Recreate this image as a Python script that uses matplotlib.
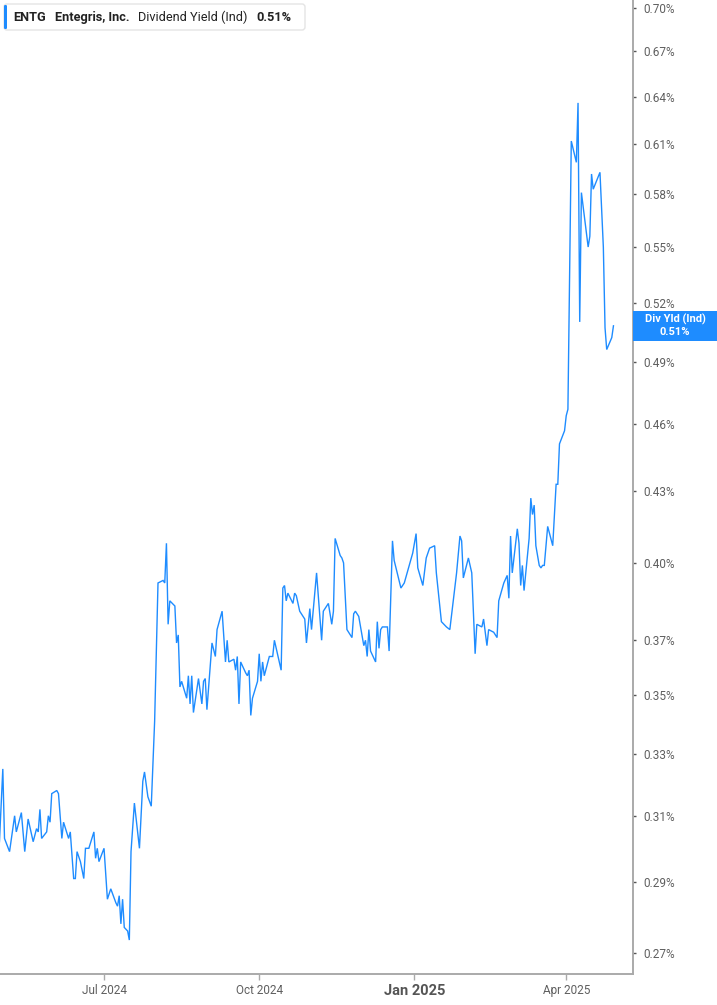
import matplotlib
matplotlib.use("Agg")
import matplotlib.pyplot as plt
from matplotlib.patches import FancyBboxPatch, Rectangle
from matplotlib.ticker import FixedLocator, NullLocator, NullFormatter
import pandas as pd

plt.rcParams['font.family'] = ['Roboto', 'DejaVu Sans']

ticker = "ENTG"
company = "Entegris, Inc."
metric = "Dividend Yield (Ind)"
short_metric = "Div Yld (Ind)"

dates = [
    "2024-04-30", "2024-05-02", "2024-05-03", "2024-05-06", "2024-05-09", "2024-05-10",
    "2024-05-13", "2024-05-15", "2024-05-17", "2024-05-20", "2024-05-22", "2024-05-23",
    "2024-05-24", "2024-05-25", "2024-05-28", "2024-05-29", "2024-05-30", "2024-05-31",
    "2024-06-03", "2024-06-04", "2024-06-06", "2024-06-07", "2024-06-10", "2024-06-11",
    "2024-06-13", "2024-06-14", "2024-06-15", "2024-06-17", "2024-06-19", "2024-06-20",
    "2024-06-22", "2024-06-25", "2024-06-26", "2024-06-27", "2024-06-28", "2024-07-01",
    "2024-07-03", "2024-07-05", "2024-07-08", "2024-07-09", "2024-07-10", "2024-07-11",
    "2024-07-12", "2024-07-13", "2024-07-15", "2024-07-16", "2024-07-17", "2024-07-19",
    "2024-07-22", "2024-07-24", "2024-07-25", "2024-07-27", "2024-07-29", "2024-07-31",
    "2024-08-02", "2024-08-05", "2024-08-06", "2024-08-07", "2024-08-08", "2024-08-09",
    "2024-08-12", "2024-08-13", "2024-08-14", "2024-08-15", "2024-08-16", "2024-08-19",
    "2024-08-20", "2024-08-21", "2024-08-22", "2024-08-23", "2024-08-26", "2024-08-28",
    "2024-08-29", "2024-08-30", "2024-08-31", "2024-09-03", "2024-09-05", "2024-09-06",
    "2024-09-09", "2024-09-11", "2024-09-12", "2024-09-13", "2024-09-16", "2024-09-17",
    "2024-09-18", "2024-09-19", "2024-09-20", "2024-09-23", "2024-09-24", "2024-09-25",
    "2024-09-26", "2024-09-27", "2024-09-30", "2024-10-01", "2024-10-02", "2024-10-03",
    "2024-10-04", "2024-10-07", "2024-10-09", "2024-10-10", "2024-10-14", "2024-10-15",
    "2024-10-16", "2024-10-17", "2024-10-18", "2024-10-21", "2024-10-22", "2024-10-23",
    "2024-10-25", "2024-10-28", "2024-10-29", "2024-10-31", "2024-11-01", "2024-11-04",
    "2024-11-07", "2024-11-08", "2024-11-11", "2024-11-13", "2024-11-14", "2024-11-15",
    "2024-11-18", "2024-11-19", "2024-11-20", "2024-11-22", "2024-11-25", "2024-11-26",
    "2024-11-27", "2024-11-29", "2024-12-02", "2024-12-03", "2024-12-04", "2024-12-05",
    "2024-12-06", "2024-12-09", "2024-12-10", "2024-12-11", "2024-12-12", "2024-12-13",
    "2024-12-16", "2024-12-17", "2024-12-19", "2024-12-20", "2024-12-24", "2024-12-26",
    "2024-12-31", "2025-01-02", "2025-01-03", "2025-01-06", "2025-01-08", "2025-01-10",
    "2025-01-13", "2025-01-14", "2025-01-17", "2025-01-20", "2025-01-22", "2025-01-26",
    "2025-01-28", "2025-01-29", "2025-01-30", "2025-02-02", "2025-02-04", "2025-02-06",
    "2025-02-07", "2025-02-10", "2025-02-11", "2025-02-13", "2025-02-14", "2025-02-17",
    "2025-02-19", "2025-02-20", "2025-02-23", "2025-02-25", "2025-02-26", "2025-02-27",
    "2025-02-28", "2025-03-03", "2025-03-04", "2025-03-05", "2025-03-06", "2025-03-07",
    "2025-03-10", "2025-03-11", "2025-03-12", "2025-03-13", "2025-03-14", "2025-03-16",
    "2025-03-17", "2025-03-18", "2025-03-19", "2025-03-21", "2025-03-24", "2025-03-26",
    "2025-03-27", "2025-03-28", "2025-03-31", "2025-04-01", "2025-04-02", "2025-04-04",
    "2025-04-07", "2025-04-08", "2025-04-09", "2025-04-10", "2025-04-14", "2025-04-15",
    "2025-04-16", "2025-04-17", "2025-04-21", "2025-04-23", "2025-04-24", "2025-04-25",
    "2025-04-28", "2025-04-29",
]

yield_pct = [
    0.302, 0.325, 0.303, 0.299, 0.310, 0.305,
    0.311, 0.299, 0.309, 0.302, 0.306, 0.305,
    0.312, 0.303, 0.305, 0.310, 0.308, 0.317,
    0.318, 0.317, 0.303, 0.308, 0.303, 0.305,
    0.291, 0.291, 0.299, 0.296, 0.291, 0.300,
    0.300, 0.305, 0.297, 0.300, 0.296, 0.300,
    0.285, 0.288, 0.284, 0.283, 0.286, 0.278,
    0.285, 0.277, 0.276, 0.2735, 0.299, 0.314,
    0.300, 0.321, 0.324, 0.316, 0.313, 0.341,
    0.392, 0.393, 0.392, 0.408, 0.376, 0.385,
    0.383, 0.369, 0.372, 0.353, 0.355, 0.349,
    0.357, 0.347, 0.357, 0.344, 0.356, 0.347,
    0.355, 0.356, 0.345, 0.369, 0.364, 0.374,
    0.381, 0.362, 0.370, 0.362, 0.363, 0.359,
    0.364, 0.347, 0.362, 0.358, 0.357, 0.359,
    0.343, 0.349, 0.355, 0.365, 0.355, 0.362,
    0.357, 0.364, 0.364, 0.370, 0.359, 0.390,
    0.391, 0.385, 0.388, 0.384, 0.388, 0.387,
    0.381, 0.378, 0.369, 0.382, 0.374, 0.396,
    0.370, 0.381, 0.384, 0.376, 0.381, 0.410,
    0.403, 0.402, 0.400, 0.374, 0.371, 0.380,
    0.381, 0.379, 0.368, 0.370, 0.364, 0.374,
    0.366, 0.362, 0.377, 0.367, 0.374, 0.375,
    0.375, 0.366, 0.409, 0.401, 0.390, 0.392,
    0.404, 0.412, 0.398, 0.391, 0.402, 0.406,
    0.407, 0.396, 0.377, 0.375, 0.374, 0.396,
    0.411, 0.409, 0.394, 0.402, 0.396, 0.365,
    0.376, 0.375, 0.378, 0.368, 0.374, 0.373,
    0.371, 0.385, 0.392, 0.395, 0.386, 0.411,
    0.396, 0.414, 0.408, 0.391, 0.399, 0.389,
    0.410, 0.427, 0.420, 0.424, 0.407, 0.399,
    0.398, 0.399, 0.399, 0.415, 0.407, 0.433,
    0.433, 0.451, 0.457, 0.464, 0.467, 0.612,
    0.599, 0.636, 0.510, 0.581, 0.550, 0.556,
    0.592, 0.583, 0.593, 0.550, 0.507, 0.496,
    0.502, 0.508,
]

ytick_vals = [0.27, 0.29, 0.31, 0.33, 0.35, 0.37, 0.40, 0.43, 0.46,
              0.49, 0.52, 0.55, 0.58, 0.61, 0.64, 0.67, 0.70]
xtick_dates = ["2024-07-01", "2024-10-01", "2025-01-01", "2025-04-01"]
xtick_labels = ["Jul 2024", "Oct 2024", "Jan 2025", "Apr 2025"]

BLUE = "#1e8cff"
GREY_TXT = "#5f5f5f"
SPINE = "#aaaaaa"

W, H = 717, 1005
fig = plt.figure(figsize=(W / 100, H / 100), dpi=100)
ax = fig.add_axes([0, 31 / H, 633 / W, 974 / H])

x = pd.to_datetime(dates)
ax.plot(x, yield_pct, color=BLUE, lw=1.0, solid_joinstyle="miter")

ax.set_yscale("log")
ax.set_ylim(0.2643, 0.7055)
ax.set_xlim(pd.Timestamp("2024-04-30 08:00"), pd.Timestamp("2025-05-10 14:00"))

ax.yaxis.tick_right()
ax.yaxis.set_major_locator(FixedLocator(ytick_vals))
ax.yaxis.set_minor_locator(NullLocator())
ax.yaxis.set_minor_formatter(NullFormatter())
ax.set_yticklabels([f"{v:.2f}%" for v in ytick_vals])
ax.tick_params(axis="y", length=2.5, width=1, color="#555555", pad=5,
               labelsize=8.5, labelcolor=GREY_TXT)

ax.set_xticks(pd.to_datetime(xtick_dates))
ax.set_xticklabels(xtick_labels)
ax.tick_params(axis="x", length=4, width=1, color=SPINE, pad=3,
               labelsize=8.5, labelcolor=GREY_TXT)
for lbl in ax.get_xticklabels():
    if lbl.get_text().startswith("Jan"):
        lbl.set_fontweight("bold")
        lbl.set_fontsize(10.5)
        lbl.set_color("#555555")

for side in ("left", "top"):
    ax.spines[side].set_visible(False)
for side in ("right", "bottom"):
    ax.spines[side].set_color(SPINE)
    ax.spines[side].set_linewidth(1.4)

# overlay in pixel coordinates for the header and the value tag
ov = fig.add_axes([0, 0, 1, 1])
ov.set_xlim(0, W)
ov.set_ylim(H, 0)
ov.axis("off")
ov.patch.set_visible(False)

last = yield_pct[-1]

ov.add_patch(FancyBboxPatch((4, 4), 301, 26, boxstyle="round,pad=0,rounding_size=3",
                            facecolor="white", edgecolor="#e4e4e4", lw=1))
ov.add_patch(FancyBboxPatch((4, 5), 3, 24, boxstyle="round,pad=0,rounding_size=1.2",
                            facecolor=BLUE, edgecolor="none"))
hy = 17
hfs = 9.2
ov.text(13, hy, ticker, fontsize=hfs, fontweight="bold", color="#222222", va="center")
ov.text(55, hy, company, fontsize=hfs, fontweight="bold", color="#222222", va="center")
ov.text(138, hy, metric, fontsize=hfs, color="#222222", va="center")
ov.text(256, hy, f"{last:.2f}%", fontsize=hfs, fontweight="bold", color="#222222", va="center")

# value tag on the right axis
fig.canvas.draw()
y_disp = ax.transData.transform((ax.get_xlim()[0], last))[1]
ty = H - y_disp
ov.add_patch(Rectangle((633, ty - 15), W - 633, 30, facecolor=BLUE, edgecolor="none",
                       clip_on=False))
ov.text(675, ty - 6, short_metric, fontsize=8, fontweight="bold", color="white",
        ha="center", va="center")
ov.text(675, ty + 6, f"{last:.2f}%", fontsize=8, fontweight="bold", color="white",
        ha="center", va="center")

fig.savefig("out.png", dpi=100)
